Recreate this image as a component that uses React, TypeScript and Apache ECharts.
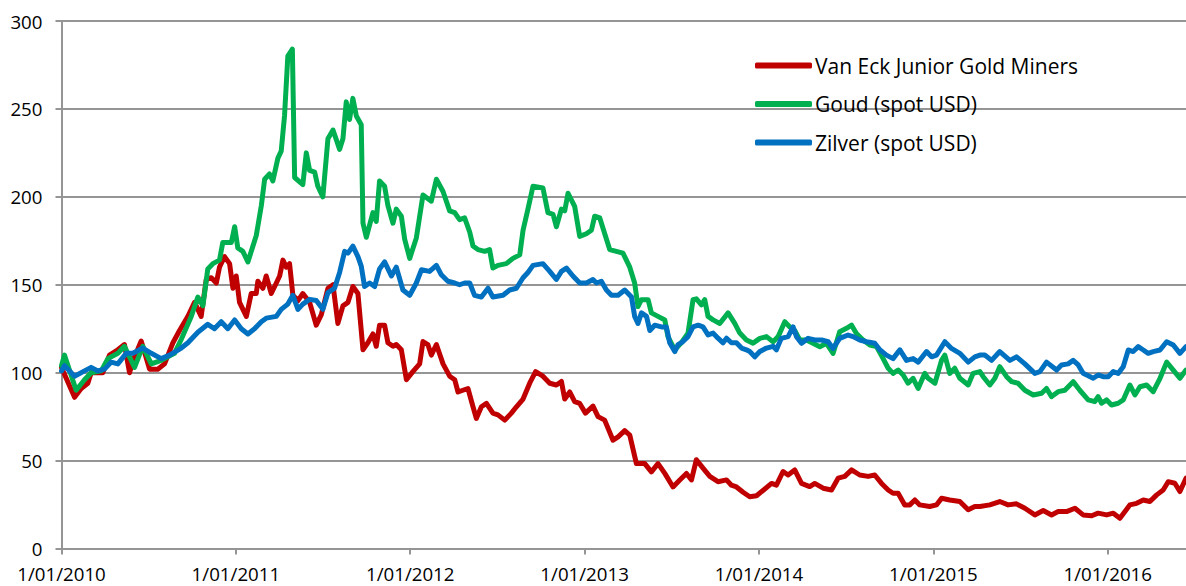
import React, { useEffect, useRef } from "react";
import * as echarts from "echarts";

const seriesNames = ["Van Eck Junior Gold Miners", "Goud (spot USD)", "Zilver (spot USD)"];
const yearTicks = [2010, 2011, 2012, 2013, 2014, 2015, 2016];
const xMin = 2010;
const xMax = 2016.449;
const yMin = 0;
const yMax = 300;
const yStep = 50;

// [decimal year, index value]
const vanEck: [number, number][] = [
  [2010.000, 103], [2010.075, 86], [2010.113, 91], [2010.151, 94], [2010.170, 100], [2010.237, 100],
  [2010.275, 110], [2010.323, 113], [2010.361, 116], [2010.390, 100], [2010.419, 109], [2010.457, 118],
  [2010.505, 102], [2010.552, 102], [2010.591, 105], [2010.639, 117], [2010.677, 124], [2010.725, 132],
  [2010.763, 140], [2010.801, 132], [2010.830, 153], [2010.859, 154], [2010.888, 151], [2010.906, 160],
  [2010.935, 166], [2010.964, 162], [2010.983, 148], [2011.002, 155], [2011.021, 140], [2011.060, 132],
  [2011.088, 145], [2011.117, 145], [2011.126, 152], [2011.155, 148], [2011.174, 155], [2011.203, 145],
  [2011.232, 151], [2011.251, 155], [2011.270, 164], [2011.289, 160], [2011.308, 162], [2011.327, 144],
  [2011.356, 141], [2011.384, 145], [2011.423, 140], [2011.461, 127], [2011.490, 133], [2011.528, 148],
  [2011.557, 150], [2011.585, 128], [2011.614, 138], [2011.643, 140], [2011.671, 149], [2011.700, 145],
  [2011.729, 113], [2011.757, 117], [2011.786, 122], [2011.805, 115], [2011.824, 127], [2011.853, 127],
  [2011.872, 117], [2011.901, 115], [2011.920, 116], [2011.949, 113], [2011.978, 96], [2012.015, 100.6],
  [2012.054, 105], [2012.073, 117.7], [2012.101, 116], [2012.121, 110], [2012.150, 116], [2012.188, 105],
  [2012.226, 98], [2012.255, 96], [2012.274, 89], [2012.302, 90], [2012.331, 91], [2012.360, 80.6],
  [2012.379, 74], [2012.408, 80.6], [2012.437, 82.5], [2012.474, 77], [2012.503, 76], [2012.542, 73],
  [2012.580, 77], [2012.609, 80.6], [2012.647, 85], [2012.685, 94], [2012.719, 100.6], [2012.761, 98],
  [2012.800, 94], [2012.838, 93], [2012.867, 95], [2012.886, 85], [2012.915, 89], [2012.943, 83.5],
  [2012.972, 82.5], [2013.005, 77], [2013.048, 81], [2013.077, 75], [2013.115, 73], [2013.163, 61.6],
  [2013.192, 63.5], [2013.230, 67], [2013.259, 64.5], [2013.297, 48.3], [2013.345, 48.3], [2013.383, 43.6],
  [2013.421, 48.3], [2013.460, 42.7], [2013.507, 35], [2013.546, 39], [2013.584, 42.7], [2013.613, 39],
  [2013.641, 50.5], [2013.679, 45.7], [2013.718, 41], [2013.765, 38], [2013.814, 39], [2013.842, 36],
  [2013.871, 35], [2013.909, 32], [2013.947, 29.4], [2013.986, 30], [2014.023, 33], [2014.072, 37],
  [2014.100, 36], [2014.138, 43.8], [2014.167, 41.8], [2014.205, 44.7], [2014.244, 37], [2014.291, 35.2],
  [2014.320, 37], [2014.368, 34.3], [2014.416, 33.3], [2014.454, 40], [2014.492, 41], [2014.531, 44.7],
  [2014.578, 41.8], [2014.626, 41], [2014.664, 41.8], [2014.703, 37], [2014.741, 33.3], [2014.769, 31.4],
  [2014.798, 31.4], [2014.836, 24.8], [2014.865, 24.8], [2014.894, 27.6], [2014.922, 24.8], [2014.979, 23.9],
  [2015.018, 24.8], [2015.047, 28.6], [2015.094, 27.6], [2015.152, 26.7], [2015.200, 22], [2015.238, 23.9],
  [2015.267, 23.9], [2015.324, 24.8], [2015.381, 26.7], [2015.429, 24.8], [2015.477, 25.4], [2015.525, 22.9],
  [2015.582, 19.1], [2015.630, 21.6], [2015.678, 19.1], [2015.716, 21], [2015.764, 21], [2015.812, 22.9],
  [2015.859, 19.1], [2015.908, 18.6], [2015.945, 20.1], [2015.994, 19.1], [2016.032, 20.1], [2016.070, 17.2],
  [2016.099, 21], [2016.127, 24.8], [2016.166, 25.7], [2016.204, 27.6], [2016.242, 26.7], [2016.281, 30.5],
  [2016.318, 33.3], [2016.347, 38], [2016.385, 37.1], [2016.414, 32.4], [2016.449, 40],
];

const goud: [number, number][] = [
  [2010.000, 104], [2010.017, 110], [2010.084, 90], [2010.132, 96], [2010.170, 100], [2010.228, 101],
  [2010.266, 108], [2010.323, 111], [2010.361, 115], [2010.419, 103], [2010.466, 115], [2010.515, 105],
  [2010.572, 107], [2010.648, 111], [2010.687, 119], [2010.744, 132], [2010.782, 143], [2010.811, 138],
  [2010.839, 159], [2010.868, 162], [2010.906, 164], [2010.925, 174], [2010.974, 174], [2010.993, 183],
  [2011.011, 171], [2011.040, 169], [2011.069, 163], [2011.117, 178], [2011.146, 195], [2011.165, 210],
  [2011.193, 213], [2011.212, 209], [2011.241, 222], [2011.260, 226], [2011.279, 246], [2011.298, 280],
  [2011.324, 284], [2011.337, 211], [2011.384, 207], [2011.404, 225], [2011.423, 215], [2011.452, 214],
  [2011.470, 206], [2011.499, 200], [2011.528, 233], [2011.557, 238], [2011.595, 227], [2011.614, 233],
  [2011.633, 254], [2011.652, 244], [2011.671, 256], [2011.691, 246], [2011.719, 241], [2011.729, 185],
  [2011.748, 177], [2011.786, 191], [2011.805, 186], [2011.824, 209], [2011.853, 206], [2011.872, 195],
  [2011.901, 185], [2011.920, 193], [2011.949, 189], [2011.968, 176], [2011.997, 165], [2012.035, 176.6],
  [2012.073, 201], [2012.121, 197.5], [2012.150, 210], [2012.188, 203], [2012.226, 192], [2012.255, 191],
  [2012.283, 187], [2012.312, 188], [2012.341, 180], [2012.360, 172], [2012.388, 170], [2012.427, 169],
  [2012.455, 170], [2012.474, 159.5], [2012.503, 161], [2012.551, 162], [2012.589, 165], [2012.628, 167],
  [2012.647, 181], [2012.675, 193], [2012.704, 206], [2012.761, 205], [2012.790, 191], [2012.819, 190],
  [2012.838, 183], [2012.867, 193], [2012.886, 192], [2012.905, 202], [2012.943, 194.6], [2012.972, 177.5],
  [2013.010, 179], [2013.039, 181], [2013.058, 189], [2013.087, 188], [2013.144, 170], [2013.220, 168],
  [2013.259, 160], [2013.287, 151], [2013.306, 137.6], [2013.326, 141.5], [2013.364, 141.5], [2013.383, 134],
  [2013.421, 132], [2013.460, 130], [2013.478, 120.5], [2013.517, 113], [2013.555, 117], [2013.593, 122.5],
  [2013.622, 141.5], [2013.641, 142], [2013.670, 138.6], [2013.689, 141.5], [2013.708, 132], [2013.737, 130],
  [2013.775, 128], [2013.823, 134], [2013.861, 128], [2013.890, 122.5], [2013.928, 118.6], [2013.966, 116.8],
  [2014.005, 119.5], [2014.043, 120.5], [2014.081, 117.6], [2014.110, 120.5], [2014.148, 129], [2014.177, 126],
  [2014.205, 124], [2014.234, 118.6], [2014.272, 118.6], [2014.310, 116.7], [2014.349, 114.8], [2014.387, 116.7],
  [2014.425, 111], [2014.463, 123.3], [2014.502, 125.2], [2014.531, 127], [2014.559, 122.3], [2014.597, 118.6],
  [2014.636, 115.7], [2014.674, 114.8], [2014.712, 108], [2014.741, 102.5], [2014.769, 99.6], [2014.798, 101.5],
  [2014.827, 98.7], [2014.855, 94], [2014.884, 96.8], [2014.913, 91], [2014.951, 99.6], [2014.970, 96.8],
  [2015.009, 94], [2015.047, 107], [2015.066, 110], [2015.094, 99.6], [2015.123, 102.5], [2015.152, 96.8],
  [2015.200, 93], [2015.228, 99.6], [2015.267, 100.6], [2015.286, 97.7], [2015.324, 93], [2015.353, 96.8],
  [2015.381, 103.4], [2015.420, 97.7], [2015.449, 94.9], [2015.486, 94], [2015.525, 90], [2015.573, 87.3],
  [2015.621, 88.3], [2015.649, 91], [2015.678, 86.4], [2015.716, 89.2], [2015.754, 90], [2015.802, 94.9],
  [2015.840, 90], [2015.888, 84.5], [2015.926, 83.5], [2015.945, 86.4], [2015.965, 82.6], [2015.994, 84.5],
  [2016.022, 81.6], [2016.060, 82.6], [2016.089, 84.5], [2016.127, 93], [2016.156, 87.3], [2016.185, 92],
  [2016.223, 93], [2016.261, 89.2], [2016.300, 96.8], [2016.338, 106], [2016.376, 101.5], [2016.414, 96.8],
  [2016.449, 101.5],
];

const zilver: [number, number][] = [
  [2010.000, 101], [2010.017, 104], [2010.075, 98], [2010.132, 101], [2010.170, 103], [2010.208, 101],
  [2010.247, 102], [2010.285, 106], [2010.323, 105], [2010.371, 111], [2010.409, 111], [2010.466, 114],
  [2010.515, 111], [2010.572, 108], [2010.620, 110], [2010.687, 114], [2010.725, 117], [2010.782, 123],
  [2010.839, 127.5], [2010.877, 125], [2010.916, 129], [2010.954, 125], [2010.993, 130], [2011.031, 125],
  [2011.069, 122], [2011.107, 125], [2011.146, 129], [2011.174, 131], [2011.232, 132], [2011.260, 136],
  [2011.298, 139], [2011.327, 144], [2011.356, 136], [2011.384, 139], [2011.423, 141.7], [2011.461, 141],
  [2011.499, 136], [2011.528, 145.5], [2011.566, 148], [2011.595, 157], [2011.624, 169], [2011.643, 168],
  [2011.671, 172], [2011.700, 166], [2011.719, 160.6], [2011.738, 149], [2011.767, 151], [2011.796, 149],
  [2011.824, 159], [2011.853, 163], [2011.892, 155], [2011.920, 160], [2011.958, 147], [2011.997, 144],
  [2012.035, 151], [2012.064, 158.5], [2012.111, 157.6], [2012.150, 161], [2012.178, 155.7], [2012.216, 152],
  [2012.255, 151], [2012.283, 150], [2012.312, 151], [2012.341, 151], [2012.369, 144], [2012.408, 143],
  [2012.446, 148], [2012.474, 143], [2012.532, 144], [2012.570, 147], [2012.609, 148], [2012.647, 154],
  [2012.675, 157], [2012.704, 161], [2012.761, 162], [2012.800, 157.6], [2012.838, 153], [2012.867, 157.6],
  [2012.896, 159.5], [2012.933, 155], [2012.972, 151], [2013.010, 151], [2013.048, 153], [2013.068, 151],
  [2013.096, 152], [2013.125, 147], [2013.154, 144], [2013.192, 144], [2013.230, 147], [2013.269, 143],
  [2013.287, 132], [2013.306, 128], [2013.326, 134], [2013.355, 132], [2013.374, 124], [2013.402, 127],
  [2013.441, 126], [2013.469, 126], [2013.488, 117], [2013.517, 112], [2013.536, 116], [2013.564, 117.7],
  [2013.593, 120.5], [2013.622, 126], [2013.651, 127], [2013.679, 126], [2013.708, 121.5], [2013.737, 122.5],
  [2013.765, 119.6], [2013.794, 117], [2013.814, 119.6], [2013.842, 117], [2013.871, 117], [2013.900, 114],
  [2013.928, 113], [2013.947, 112], [2013.976, 109], [2014.005, 112], [2014.043, 114], [2014.081, 115],
  [2014.100, 113], [2014.128, 119.5], [2014.167, 120.5], [2014.196, 126], [2014.215, 120.5], [2014.244, 116.7],
  [2014.282, 119.5], [2014.320, 118.6], [2014.359, 118.6], [2014.397, 117.6], [2014.425, 113.8], [2014.463, 119.5],
  [2014.511, 121.4], [2014.540, 120.5], [2014.578, 118.6], [2014.617, 117.6], [2014.664, 116.7], [2014.693, 113],
  [2014.731, 110], [2014.769, 108], [2014.808, 113], [2014.846, 107], [2014.884, 108], [2014.913, 106],
  [2014.961, 112], [2014.990, 109], [2015.018, 110], [2015.066, 117.6], [2015.104, 113.8], [2015.152, 111],
  [2015.200, 106], [2015.238, 109], [2015.267, 110], [2015.295, 110], [2015.334, 107], [2015.381, 112],
  [2015.439, 107], [2015.477, 109], [2015.525, 105], [2015.582, 99.6], [2015.611, 100.6], [2015.649, 106],
  [2015.707, 101.5], [2015.735, 104.4], [2015.773, 105], [2015.802, 107], [2015.831, 104.4], [2015.859, 99.6],
  [2015.917, 96.8], [2015.945, 98.7], [2015.974, 97.7], [2016.003, 97.7], [2016.032, 100.6], [2016.060, 99.6],
  [2016.089, 103.4], [2016.118, 112.9], [2016.146, 112], [2016.175, 114.8], [2016.204, 112.9], [2016.232, 111],
  [2016.261, 112], [2016.300, 112.9], [2016.338, 117.6], [2016.376, 115.7], [2016.414, 111], [2016.449, 114.8],
];

const seriesData = [vanEck, goud, zilver];
const seriesColors = ["#C00000", "#00B050", "#0070C0"];

const FONT = "'Open Sans', sans-serif";

export default function App() {
  const ref = useRef<HTMLDivElement>(null);

  useEffect(() => {
    if (!ref.current) return;
    const chart = echarts.init(ref.current, null, { renderer: "svg" });
    chart.setOption({
      animation: false,
      backgroundColor: "#ffffff",
      textStyle: { fontFamily: FONT },
      grid: { left: 61.5, right: 0, top: 21, bottom: 37.5, containLabel: false },
      legend: {
        orient: "vertical",
        left: 750,
        top: 50,
        itemWidth: 57,
        itemHeight: 6,
        itemGap: 17.5,
        icon: "roundRect",
        data: seriesNames,
        textStyle: { fontFamily: FONT, fontSize: 21, color: "#000000", padding: [0, 0, 0, -2] },
        selectedMode: false,
      },
      xAxis: {
        type: "value",
        min: xMin,
        max: xMax,
        interval: 1,
        axisLine: { show: true, lineStyle: { color: "#959595", width: 2 } },
        axisTick: { show: true, length: 6, customValues: yearTicks, lineStyle: { color: "#959595", width: 2 } },
        axisLabel: {
          customValues: yearTicks,
          formatter: (v: number) => `1/01/${Math.round(v)}`,
          fontFamily: FONT,
          fontSize: 18.7,
          color: "#000000",
          margin: 15,
        },
        splitLine: { show: false },
      },
      yAxis: {
        type: "value",
        min: yMin,
        max: yMax,
        interval: yStep,
        axisLine: { show: true, lineStyle: { color: "#959595", width: 2 } },
        axisTick: { show: true, length: 6, lineStyle: { color: "#959595", width: 2 } },
        axisLabel: { fontFamily: FONT, fontSize: 18.7, color: "#000000", margin: 19 },
        splitLine: { show: true, lineStyle: { color: "#959595", width: 2 } },
      },
      series: seriesNames.map((name, i) => ({
        name,
        type: "line",
        data: seriesData[i],
        showSymbol: false,
        symbol: "none",
        color: seriesColors[i],
        lineStyle: { color: seriesColors[i], width: 5, join: "round", cap: "round" },
        z: 2 + i,
      })),
    });
    return () => chart.dispose();
  }, []);

  return (
    <div
      ref={ref}
      style={{ position: "absolute", left: 0, top: 0, width: 1186, height: 586, background: "#ffffff" }}
    />
  );
}
